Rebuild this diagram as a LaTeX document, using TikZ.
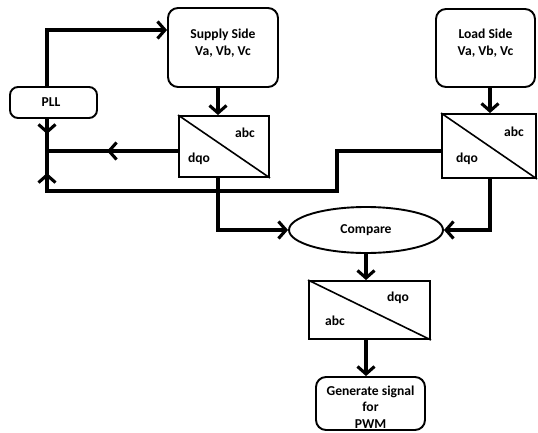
\documentclass[tikz,border=0pt]{standalone}
\usepackage{fontspec}
\setmainfont{Carlito}
\usetikzlibrary{arrows.meta,shapes.geometric}

\begin{document}
\begin{tikzpicture}[x=1pt,y=-1pt,
	blk/.style={draw,line width=1.9pt,rounded corners=10pt,inner sep=0pt},
	conv/.style={draw,line width=1.9pt,inner sep=0pt},
	txt/.style={font=\fontsize{13.6}{16.5}\selectfont\bfseries,align=center,inner sep=0pt},
	wire/.style={line width=3.1pt},
	arr/.style={wire,-{Straight Barb[length=7.5pt,width=17pt]}}]
	\useasboundingbox (0,0) rectangle (538,432);

	% boxes
	\node [blk,minimum width=110pt,minimum height=79pt] (supply) at (223,47.5) {};
	\node [blk,minimum width=99pt,minimum height=78pt] (load) at (485.5,48) {};
	\node [blk,rounded corners=8pt,minimum width=87pt,minimum height=31pt] (pll) at (53.5,102.5) {};
	\node [conv,minimum width=90pt,minimum height=61pt] (convS) at (224,146.5) {};
	\node [conv,minimum width=94pt,minimum height=64pt] (convL) at (489,146) {};
	\node [conv,draw,ellipse,minimum width=154pt,minimum height=46pt] (cmp) at (366,230) {};
	\node [conv,minimum width=121pt,minimum height=58pt] (convP) at (369.5,310) {};
	\node [blk,minimum width=109pt,minimum height=53pt] (gen) at (370.5,403.5) {};

	\draw [line width=1.6pt] (convS.north west) -- (convS.south east);
	\draw [line width=1.6pt] (convL.north west) -- (convL.south east);
	\draw [line width=1.6pt] (convP.north west) -- (convP.south east);

	% texts
	\node [txt] (supplytxt) at (223,43) {Supply Side\\Va, Vb, Vc};
	\node [txt] (loadtxt) at (485.5,43) {Load Side\\Va, Vb, Vc};
	\node [txt] (plltxt) at (51,102.5) {PLL};
	\node [txt] (cmptxt) at (cmp.center) {Compare};
	\node [txt] (gentxt) at (370.5,407) {Generate signal\\for\\PWM};
	\node [txt] (convSa) at (245,133) {abc};
	\node [txt] (convSd) at (199,159) {dqo};
	\node [txt] (convLa) at (514,132) {abc};
	\node [txt] (convLd) at (467,159) {dqo};
	\node [txt] (convPd) at (398,298) {dqo};
	\node [txt] (convPa) at (335,321) {abc};

	% wires
	\coordinate (top) at (47,30);
	\coordinate (junc) at (47,151);
	\coordinate (low) at (47,191);
	\coordinate (step) at (337,151);
	\draw [arr] (pll.north -| top) -- (top) -- (top -| supply.west);
	\draw [wire] (pll.south -| junc) -- (low) -- (low -| step) -- (step) -- (step -| convL.west);
	\draw [arr] (pll.south -| junc) -- (47,134);
	\draw [arr] (low) -- (47,173);
	\draw [wire] (convS.west |- junc) -- (junc);
	\draw [arr] (convS.west |- junc) -- (107,151);

	\draw [arr] (218,0 |- supply.south) -- (218,0 |- convS.north);
	\draw [arr] (490,0 |- load.south) -- (490,0 |- convL.north);
	\draw [arr] (218,0 |- convS.south) -- (218,230) -- (cmp.west);
	\draw [arr] (490,0 |- convL.south) -- (490,230) -- (cmp.east);
	\draw [arr] (cmp.south) -- (cmp.south |- convP.north);
	\draw [arr] (convP.south -| cmp.south) -- (cmp.south |- gen.north);
\end{tikzpicture}
\end{document}
